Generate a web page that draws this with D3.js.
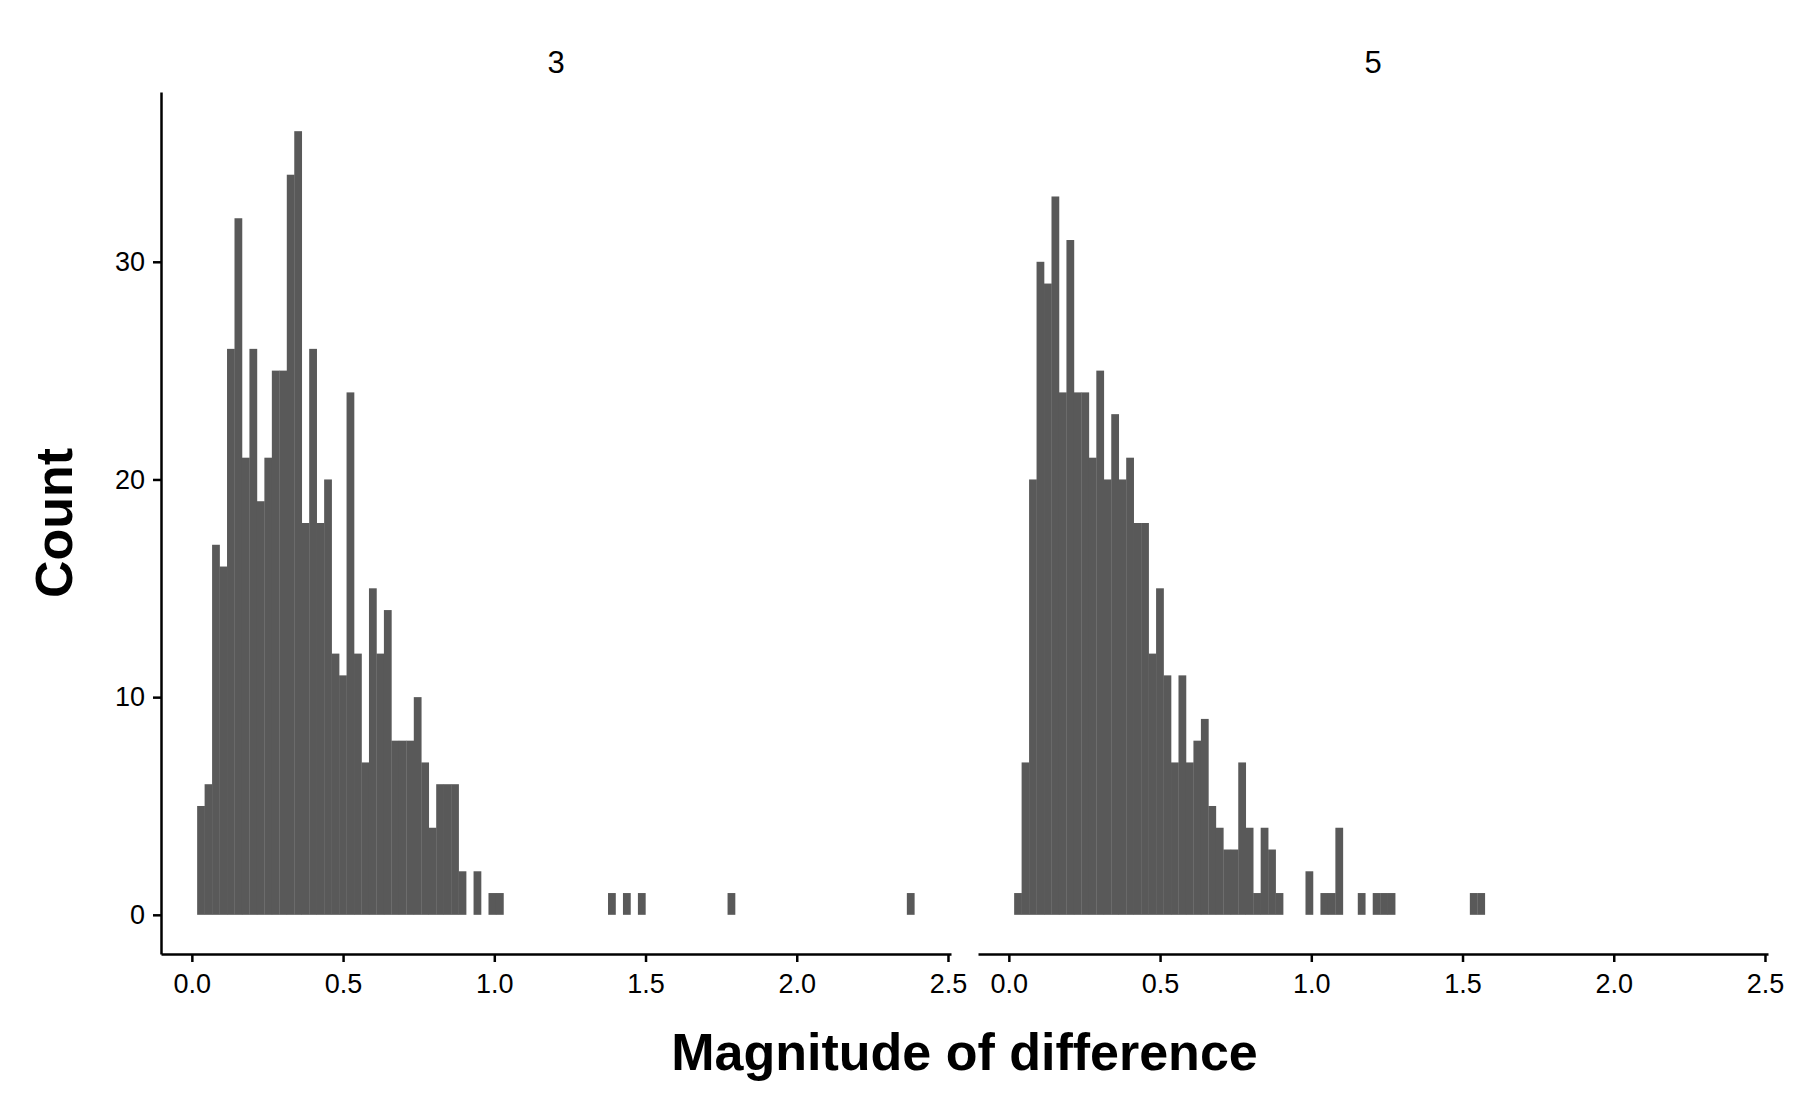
<!DOCTYPE html>
<html>
<head>
<meta charset="utf-8">
<script src="https://cdn.jsdelivr.net/npm/d3@7"></script>
<style>
  body { margin: 0; background: #fff; }
  text { font-family: Arial, "Liberation Sans", sans-serif; }
</style>
</head>
<body>
<svg id="chart" width="1800" height="1113"></svg>
<script>
// histogram bins, shared start and width
var binStart = 0.0175;
var binWidth = 0.0247;

var panels = ["3", "5"];

// counts per bin for panel "3"
var counts3 = [5, 6, 17, 16, 26, 32, 21, 26, 19, 21, 25, 25, 34, 36, 18, 26, 18, 20,
  12, 11, 24, 12, 7, 15, 12, 14, 8, 8, 8, 10, 7, 4, 6, 6, 6, 2, 0, 2, 0, 1, 1,
  0, 0, 0, 0, 0, 0, 0, 0, 0, 0, 0, 0, 0, 0, 1, 0, 1, 0, 1, 0, 0, 0, 0, 0, 0, 0,
  0, 0, 0, 0, 1, 0, 0, 0, 0, 0, 0, 0, 0, 0, 0, 0, 0, 0, 0, 0, 0, 0, 0, 0, 0, 0,
  0, 0, 1];

// counts per bin for panel "5"
var counts5 = [1, 7, 20, 30, 29, 33, 24, 31, 24, 24, 21, 25, 20, 23, 20, 21, 18, 18,
  12, 15, 11, 7, 11, 7, 8, 9, 5, 4, 3, 3, 7, 4, 1, 4, 3, 1, 0, 0, 0, 2, 0, 1, 1,
  4, 0, 0, 1, 0, 1, 1, 1, 0, 0, 0, 0, 0, 0, 0, 0, 0, 0, 1, 1];

var xTicks = [0, 0.5, 1, 1.5, 2, 2.5];
var yTicks = [0, 10, 20, 30];

var svg = d3.select("#chart");
var panelLeft = [161, 978];
var panelW = 790;
var plotTop = 92, plotBottom = 954;

var y = d3.scaleLinear().domain([-1.8, 37.8]).range([plotBottom, plotTop]);

var allCounts = [counts3, counts5];

panels.forEach(function(name, p){
  var x = d3.scaleLinear().domain([-0.102, 2.51])
    .range([panelLeft[p], panelLeft[p] + panelW]);

  var bins = allCounts[p].map(function(c, i){
    return {x0: binStart + i * binWidth, x1: binStart + (i + 1) * binWidth, n: c};
  }).filter(function(d){ return d.n > 0; });

  var g = svg.append("g");

  g.selectAll("rect")
    .data(bins)
    .enter().append("rect")
    .attr("x", function(d){ return x(d.x0); })
    .attr("width", function(d){ return x(d.x1) - x(d.x0) + 0.3; })
    .attr("y", function(d){ return y(d.n); })
    .attr("height", function(d){ return y(0) - y(d.n); })
    .attr("fill", "#595959");

  var xAxis = g.append("g")
    .attr("transform", "translate(0," + plotBottom + ")")
    .call(d3.axisBottom(x).tickValues(xTicks).tickFormat(d3.format(".1f"))
      .tickSizeInner(8).tickSizeOuter(0).tickPadding(12));
  xAxis.select(".domain").attr("stroke", "#000").attr("stroke-width", 2.5);
  xAxis.selectAll(".tick line").attr("stroke", "#000").attr("stroke-width", 2.5);
  xAxis.selectAll("text").attr("font-size", 27).attr("fill", "#000");

  if(p == 0){
    var yAxis = g.append("g")
      .attr("transform", "translate(" + panelLeft[p] + ",0)")
      .call(d3.axisLeft(y).tickValues(yTicks).tickSizeInner(8).tickSizeOuter(0).tickPadding(8));
    yAxis.select(".domain").attr("stroke", "#000").attr("stroke-width", 2.5);
    yAxis.selectAll(".tick line").attr("stroke", "#000").attr("stroke-width", 2.5);
    yAxis.selectAll("text").attr("font-size", 27).attr("fill", "#000");
  }

  g.append("text")
    .attr("x", panelLeft[p] + panelW / 2)
    .attr("y", 73)
    .attr("text-anchor", "middle")
    .attr("font-size", 31)
    .text(name);
});

svg.append("text")
  .attr("x", (panelLeft[0] + panelLeft[1] + panelW) / 2)
  .attr("y", 1070)
  .attr("text-anchor", "middle")
  .attr("font-size", 52)
  .attr("font-weight", "bold")
  .text("Magnitude of difference");

svg.append("text")
  .attr("transform", "translate(72," + (plotTop + plotBottom) / 2 + ") rotate(-90)")
  .attr("text-anchor", "middle")
  .attr("font-size", 52)
  .attr("font-weight", "bold")
  .text("Count");
</script>
</body>
</html>
